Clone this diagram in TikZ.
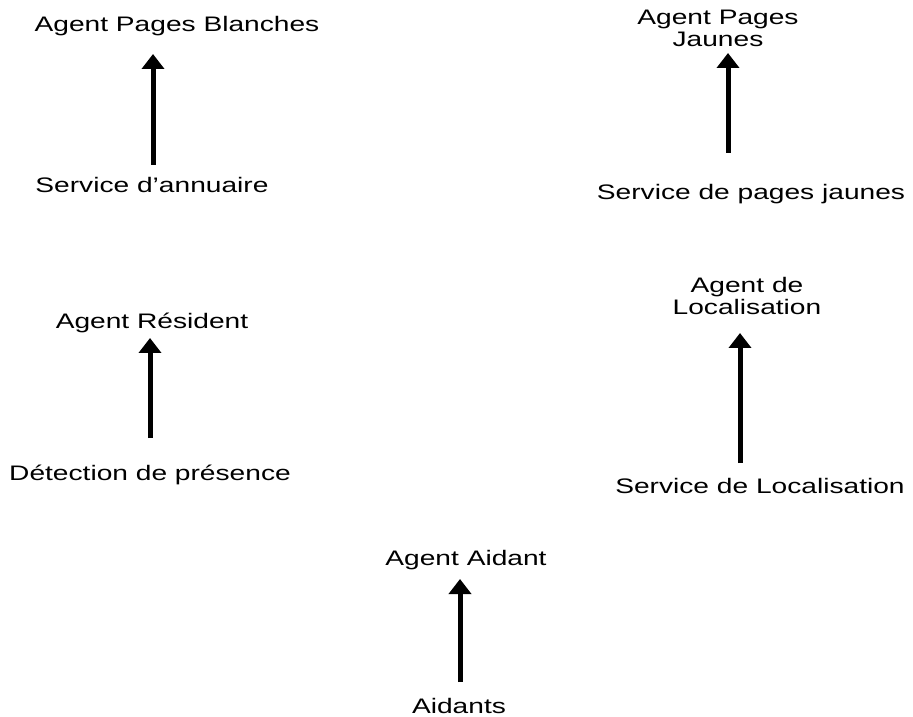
\documentclass[tikz,border=0pt]{standalone}
\usepackage{fontspec}
\setmainfont{Liberation Sans}
\usepackage{tikz}
\usetikzlibrary{arrows.meta}
\newcommand{\wide}[1]{\scalebox{1.34}[1]{#1}}

\begin{document}
\begin{tikzpicture}[x=1pt,y=1pt,font=\fontsize{21}{22}\selectfont,
    lbl/.style={inner sep=0pt,anchor=base},
    lbltwo/.style={inner sep=0pt,anchor=north,align=center},
    arr/.style={-{Triangle[width=22pt,length=15pt]},line width=5pt}]
  \useasboundingbox (0,0) rectangle (913,716);
  % top row
  \node[lbl] (apb) at (177,684) {\wide{Agent Pages Blanches}};
  \node[lbl] (sann) at (152,523) {\wide{Service d'annuaire}};
  \node[lbltwo] (apj) at (718,706) {\wide{Agent Pages}\\\wide{Jaunes}};
  \node[lbl] (spj) at (751,516) {\wide{Service de pages jaunes}};
  % middle row
  \node[lbl] (ares) at (152,388) {\wide{Agent Résident}};
  \node[lbl] (dpres) at (150,236) {\wide{Détection de présence}};
  \node[lbltwo] (aloc) at (747,439) {\wide{Agent de}\\\wide{Localisation}};
  \node[lbl] (sloc) at (760,223) {\wide{Service de Localisation}};
  % bottom
  \node[lbl] (aaid) at (466,151) {\wide{Agent Aidant}};
  \node[lbl] (aidants) at (459,3) {\wide{Aidants}};
  % arrow ends
  \coordinate (sann-a) at (153,551);  \coordinate (apb-a) at (153,662);
  \coordinate (spj-a) at (728,563);   \coordinate (apj-a) at (728,663);
  \coordinate (dpres-a) at (150,278); \coordinate (ares-a) at (150,378);
  \coordinate (sloc-a) at (740,253);  \coordinate (aloc-a) at (740,383);
  \coordinate (aidants-a) at (460,34); \coordinate (aaid-a) at (460,137);
  \draw[arr] (sann-a) -- (apb-a);
  \draw[arr] (spj-a) -- (apj-a);
  \draw[arr] (dpres-a) -- (ares-a);
  \draw[arr] (sloc-a) -- (aloc-a);
  \draw[arr] (aidants-a) -- (aaid-a);
\end{tikzpicture}
\end{document}
